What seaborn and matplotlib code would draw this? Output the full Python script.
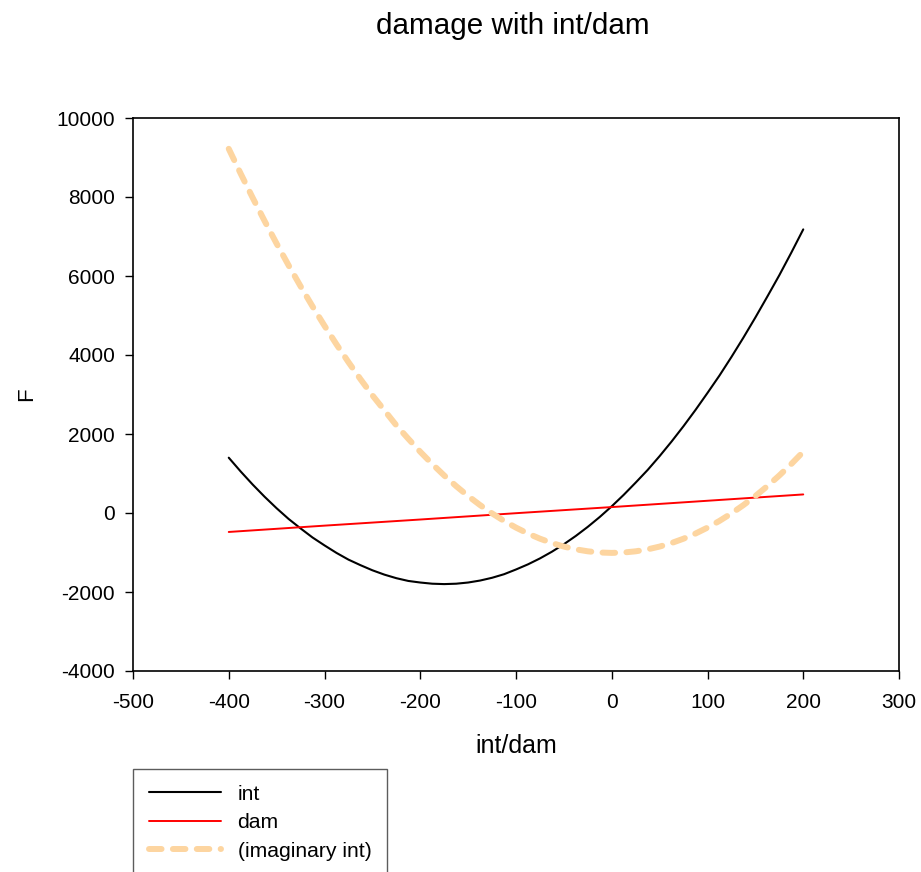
import numpy as np
import pandas as pd
import matplotlib
matplotlib.use("Agg")
import matplotlib.pyplot as plt
import seaborn as sns

# ---- data ----
x_int = [-400, -387.5, -375, -362.5, -350, -337.5, -325, -312.5, -300, -287.5, -275, -262.5,
         -250, -237.5, -225, -212.5, -200, -187.5, -175, -162.5, -150, -137.5, -125, -112.5,
         -100, -87.5, -75, -62.5, -50, -37.5, -25, -12.5, 0, 12.5, 25, 37.5, 50, 62.5, 75,
         87.5, 100, 112.5, 125, 137.5, 150, 162.5, 175, 187.5, 200]
y_int = [1400, 1050, 720, 410, 120, -150, -390, -620, -820, -1010, -1180, -1320,
         -1450, -1560, -1650, -1720, -1760, -1790, -1800, -1790, -1760, -1710, -1640, -1550,
         -1430, -1300, -1150, -980, -790, -580, -350, -100, 170, 460, 770, 1090, 1440, 1810, 2200,
         2610, 3040, 3480, 3950, 4440, 4950, 5480, 6020, 6590, 7180]

x_dam = [-400, -300, -200, -100, 0, 100, 200]
y_dam = [-480, -320, -165, -5, 150, 310, 470]

x_imag = [-400, -387.5, -375, -362.5, -350, -337.5, -325, -312.5, -300, -287.5, -275, -262.5,
          -250, -237.5, -225, -212.5, -200, -187.5, -175, -162.5, -150, -137.5, -125, -112.5,
          -100, -87.5, -75, -62.5, -50, -37.5, -25, -12.5, 0, 12.5, 25, 37.5, 50, 62.5, 75,
          87.5, 100, 112.5, 125, 137.5, 150, 162.5, 175, 187.5, 200]
y_imag = [9220, 8590, 7980, 7390, 6820, 6270, 5740, 5230, 4740, 4270, 3820, 3390,
          2980, 2600, 2220, 1880, 1550, 1240, 950, 680, 430, 200, -10, -200,
          -370, -520, -650, -760, -850, -920, -970, -1000, -1010, -1000, -970, -920, -850, -760, -650,
          -520, -370, -200, -10, 200, 430, 680, 950, 1240, 1550]

series_names = ["int", "dam", "(imaginary int)"]
title = "damage with int/dam"
xlabel = "int/dam"
ylabel = "F"
xticks = [-500, -400, -300, -200, -100, 0, 100, 200, 300]
yticks = [-4000, -2000, 0, 2000, 4000, 6000, 8000, 10000]

df = pd.concat([
    pd.DataFrame({"x": x_int, "y": y_int, "series": series_names[0]}),
    pd.DataFrame({"x": x_dam, "y": y_dam, "series": series_names[1]}),
    pd.DataFrame({"x": x_imag, "y": y_imag, "series": series_names[2]}),
], ignore_index=True)

sns.set_style("ticks")
plt.rcParams["font.family"] = ["Liberation Sans", "DejaVu Sans"]
plt.rcParams["axes.unicode_minus"] = False
plt.rcParams["text.color"] = "black"
plt.rcParams["axes.labelcolor"] = "black"
plt.rcParams["xtick.color"] = "black"
plt.rcParams["ytick.color"] = "black"

fig = plt.figure(figsize=(9.21, 8.72), dpi=100)
ax = fig.add_axes([133 / 921, 1 - 671 / 872, (899 - 133) / 921, (671 - 118) / 872])

palette = {series_names[0]: "black", series_names[1]: "#ff0000", series_names[2]: "#fdd5a0"}
widths = {series_names[0]: 1.5, series_names[1]: 1.4, series_names[2]: 4.3}

for name in series_names:
    sub = df[df["series"] == name]
    sns.lineplot(data=sub, x="x", y="y", ax=ax, color=palette[name],
                 linewidth=widths[name], label=name, sort=False, estimator=None)

lines = ax.get_lines()
dl = lines[2]
dl.set_dashes((2.1, 1.9))
dl.set_dash_capstyle("round")
dl.set_solid_capstyle("round")

ax.set_xlim(-500, 300)
ax.set_ylim(-4000, 10000)
ax.set_xticks(xticks)
ax.set_yticks(yticks)
ax.tick_params(direction="out", length=6, width=1, labelsize=15, pad=7,
               color="black", labelcolor="black")
ax.tick_params(axis="x", pad=10)
for s in ax.spines.values():
    s.set_visible(True)
    s.set_color("black")
    s.set_linewidth(1.2)

ax.set_xlabel(xlabel, fontsize=18, labelpad=16, color="black")
ax.set_ylabel(ylabel, fontsize=16, labelpad=14, color="black")
fig.text(513 / 921, 1 - 26 / 872, title, fontsize=21.3, ha="center", va="center", color="black")

ax.get_legend().remove()
handles = ax.get_lines()[:3]
leg = fig.legend(handles, series_names, loc="upper left",
                 bbox_to_anchor=(133 / 921, 1 - 769 / 872), bbox_transform=fig.transFigure,
                 borderaxespad=0, frameon=True, fancybox=False, fontsize=15.2,
                 handlelength=3.4, handletextpad=0.8, labelspacing=0.45, borderpad=0.75)
leg.get_frame().set_edgecolor("#333333")
leg.get_frame().set_linewidth(1.0)
for t in leg.get_texts():
    t.set_color("black")

fig.savefig("out.png", dpi=100)
